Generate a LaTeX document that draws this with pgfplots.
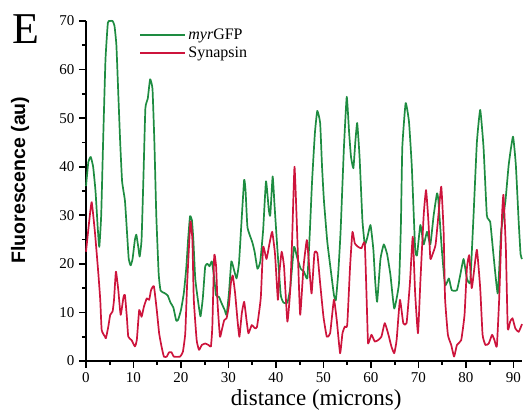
\documentclass[border=0pt]{standalone}
\usepackage{fontspec}
\setmainfont{Liberation Serif}
\newfontfamily\sansb{Liberation Sans}
\usepackage{pgfplots}
\pgfplotsset{compat=1.18}
\definecolor{mygreen}{RGB}{30,140,65}
\definecolor{myred}{RGB}{205,20,60}
\begin{document}
\begin{tikzpicture}
\begin{axis}[
  width=436pt, height=340pt, scale only axis,
  xmin=0, xmax=91.8, ymin=0, ymax=70,
  axis x line*=bottom, axis y line*=left,
  axis line style={-, line width=2.4pt},
  xtick={0,10,...,90}, ytick={0,10,...,70},
  minor tick num=1,
  tick align=outside,
  major tick length=7pt, minor tick length=4pt,
  every tick/.style={black, line width=1.7pt},
  /pgf/number format/assume math mode=true,
  tick label style={font=\fontsize{15}{18}\selectfont},
  xticklabel style={yshift=-1pt},
  yticklabel style={xshift=-1pt},
  xlabel={distance (microns)},
  ylabel={\sansb\bfseries Fluorescence (au)},
  xlabel style={at={(axis description cs:0.528,-0.115)}, anchor=center, font=\fontsize{23}{26}\selectfont},
  ylabel style={at={(axis description cs:-0.151,0.532)}, anchor=center, font=\fontsize{19.5}{22}\selectfont},
  clip=false,
  legend style={at={(axis description cs:0.12,0.986)}, anchor=north west, draw=none, fill=none,
    font=\fontsize{16}{18}\selectfont, row sep=1.5pt, inner sep=1pt},
  legend cell align=left,
  legend image code/.code={\draw[#1, sharp plot, line width=1.9pt] (0pt,0pt) -- (45pt,0pt);},
]
\addplot[mygreen, line width=1.7pt, line join=round, smooth, tension=0.25] coordinates {
(0,36) (0.5,41) (1,42) (1.5,40) (2,35) (2.5,27) (2.8,23.5) (3.2,30) (3.6,45) (4.1,62)
(4.6,69.6) (5,70) (5.6,70) (6,69) (6.4,65) (6.8,55) (7.2,45) (7.6,37) (8.2,33) (8.6,27)
(9,21) (9.4,19.7) (9.8,21) (10.3,25) (10.6,26) (11,23.5) (11.3,21.5) (11.7,25) (12.1,38) (12.5,52)
(13,54) (13.5,58) (14,56) (14.4,45) (14.8,30) (15.3,18) (15.7,14.5) (16.5,14) (17.2,13.5) (17.8,12)
(18.4,11) (19,8.3) (19.4,8.5) (20,10.5) (20.6,14) (21.1,19) (21.5,25) (21.9,29.8) (22.3,29) (22.6,25)
(23,17) (23.5,13) (24.1,9.2) (24.6,13) (25.1,19.5) (25.6,20) (26,19.5) (26.5,20.5) (27,17) (27.4,13.5)
(28,13.2) (28.5,12) (29.2,10.5) (29.6,9.5) (30.1,14) (30.6,20.5) (31.1,19) (31.7,17) (32.2,20) (32.7,28)
(33.3,37.3) (33.6,35) (34,27.5) (35,24.5) (35.5,22.5) (36.1,19) (36.7,20.5) (37.3,27) (37.9,37) (38.5,31)
(38.8,30) (39.3,38) (39.7,32) (40.3,23) (41,13.6) (41.6,12) (42.4,12) (43,15) (43.8,23.5) (44.4,21.5)
(45.2,19) (45.9,18.4) (46.6,17) (47.1,26) (47.6,37) (48.2,47) (48.7,51.5) (49.3,49) (49.7,40) (50.1,33)
(50.8,24.6) (51.5,19) (52.2,13.6) (52.6,12.5) (53.1,18) (53.6,26.6) (54.3,43.8) (54.9,54.4) (55.4,47) (55.8,42)
(56.3,39.7) (56.7,45) (57.1,49) (57.6,42) (58.2,29) (58.7,24) (59.2,25.3) (59.9,28) (60.5,23) (60.9,16.3)
(61.3,12.2) (62,21) (62.7,24) (63.4,22) (64.1,17.7) (64.9,10.8) (65.9,16) (66.3,28) (66.6,44) (67.3,53.1)
(68,49.3) (68.6,40) (69.3,23.2) (69.7,21.8) (70.4,28) (71.1,24) (71.8,26.6) (72.5,24) (73.2,30) (73.9,34.5)
(74.2,33) (74.9,23.2) (75.6,15.6) (76.4,17) (77,14.6) (78.1,14.6) (78.8,17.7) (79.5,21) (80.2,17) (80.9,16.3)
(81.6,30) (82.3,45) (83,51.7) (83.7,44) (84.4,30) (85.1,28.7) (85.8,21.8) (86.7,13.9) (87.4,26.6) (88.3,32.8)
(89,40.4) (89.9,46.2) (90.5,40.4) (91.1,28.7) (91.5,22) (91.8,21)
};
\addlegendentry{{\itshape myr}GFP}
\addplot[myred, line width=1.7pt, line join=round, smooth, tension=0.25] coordinates {
(0,22.5) (0.7,29) (1.2,32.7) (1.9,26.3) (2.6,18) (3.0,12.6) (3.3,6.4) (4.0,5) (4.2,4.7) (4.7,7.1)
(5.1,9.5) (5.6,10.2) (5.9,12.6) (6.3,18.4) (6.8,14.6) (7.3,9.5) (7.9,13.2) (8.2,13.6) (8.6,9.1) (8.9,5)
(9.6,4.3) (10.3,3) (10.7,4.3) (11.2,10.5) (11.7,9.1) (12.2,11.2) (12.8,12.9) (13.3,12.6) (13.7,14.6) (14.3,15.4)
(14.9,10.5) (15.4,5.7) (15.9,3) (16.4,0.9) (17.0,0.9) (17.5,1.8) (18.0,1.8) (18.5,0.9) (19.8,0.9) (20.4,1.9)
(20.9,5.7) (21.3,16) (21.98,28.7) (22.4,24.9) (22.7,12.6) (23.3,4.3) (23.8,2.3) (24.4,3.3) (25.1,3.6) (25.8,3.3)
(26.3,3) (26.6,7.1) (27.0,21.8) (27.4,19.4) (27.7,11.9) (28.2,5) (28.6,6.4) (29.1,8.4) (29.6,8.8) (30.1,11.5)
(30.5,16) (30.9,17.6) (31.4,13.9) (31.9,8.4) (32.3,5) (32.8,9.8) (33.3,12.2) (33.8,8.4) (34.2,5.7) (34.9,7.4)
(35.5,6.8) (36.0,7) (36.8,13) (37.3,23.5) (38.0,21) (38.6,24) (39.2,26.6) (39.8,22) (40.4,12.6) (40.7,18)
(41.2,22.5) (41.7,19.4) (42.4,8.1) (43.0,14.6) (43.4,25) (43.9,40) (44.4,28) (44.7,19.4) (45.1,9.5) (45.8,19.4)
(46.5,24.9) (47.0,19.4) (47.5,13.9) (48.1,22.2) (48.7,22.2) (49.3,16) (50.0,9.1) (50.7,5) (51.4,5.7) (52.2,12.6)
(52.8,8.4) (53.5,1.6) (54.0,5.7) (54.5,7.1) (55.0,7.4) (55.6,19.4) (56.1,26.6) (56.6,24.2) (57.3,23.5) (58.0,23.2)
(58.7,24.2) (59.2,9.1) (59.4,3.6) (60.1,5.4) (60.8,4) (61.5,4.3) (62.2,5) (62.9,7.8) (63.6,5.7) (64.3,3)
(64.9,1.6) (65.4,4.3) (66.1,12.6) (66.8,7.8) (67.5,7.8) (68.2,16) (68.8,25.6) (69.3,14) (69.9,5.7) (70.4,16.3)
(71.1,30) (71.6,35.2) (72.1,28.7) (72.5,21.1) (72.9,21.8) (73.6,23.9) (74.2,30) (74.8,35.9) (75.3,26.6) (75.6,12.9)
(76.2,5.4) (76.9,3.3) (77.5,0.9) (78.1,3.3) (79.0,4.3) (79.7,9.5) (80.2,19.1) (80.7,21.8) (81.2,15) (81.6,17.7)
(82.3,22.9) (83.0,15) (83.5,5.4) (84.1,3.3) (84.8,3.6) (85.5,5.4) (86.0,4.3) (86.5,3) (87.0,12.9) (87.6,30)
(87.9,34.2) (88.4,23.2) (88.8,6.7) (89.3,8.1) (89.8,8.8) (90.4,6.7) (91.1,6) (91.8,7.6)
};
\addlegendentry{Synapsin}
\node[font=\fontsize{44}{48}\selectfont, anchor=center] at (axis description cs:-0.138,0.975) {E};
\end{axis}
\pgfresetboundingbox
\path[use as bounding box] (-86pt,-57pt) rectangle (437pt,361pt);
\end{tikzpicture}
\end{document}
